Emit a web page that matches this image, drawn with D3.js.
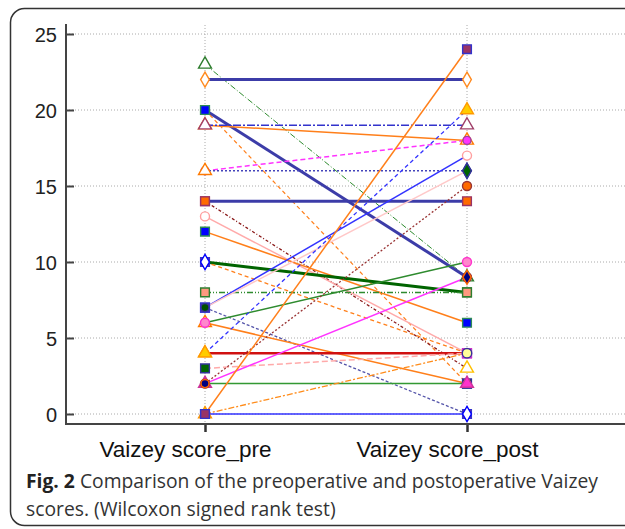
<!DOCTYPE html>
<html>
<head>
<meta charset="utf-8">
<script src="https://cdn.jsdelivr.net/npm/d3@7"></script>
<style>
  body { margin: 0; background: #fff; }
  svg { display: block; }
</style>
</head>
<body>
<div id="chart"></div>
<script>
// Data: one entry per patient (pre -> post)
const categories = ["Vaizey score_pre", "Vaizey score_post"];
const preScores  = [23, 22, 20, 20, 19, 19, 16, 16, 14, 14, 13, 12, 10, 10, 8, 7, 7, 7, 6, 6, 4, 4, 3, 2, 2, 2, 0, 0, 0];
const postScores = [9, 22, 9, 2, 18, 19, 18, 16, 14, 3, 4, 6, 8, 4, 8, 17, 0, 16, 2, 10, 4, 20, 4, 2, 15, 9, 4, 0, 24];
const yTicks = [0, 5, 10, 15, 20, 25];

// Marker styles (shape, fill, stroke, area)
const markers = {
  gTri:  { s: d3.symbolTriangle, f: "#fff",    c: "#2e7d2e", a: 72 },
  oDia:  { s: d3.symbolDiamond,  f: "#fff",    c: "#ff8a1f", a: 66 },
  bSq:   { s: d3.symbolSquare,   f: "#0000ff", c: "#2e8b57", a: 76 },
  oTri:  { s: d3.symbolTriangle, f: "#fff",    c: "#ff7a00", a: 72 },
  pTri:  { s: d3.symbolTriangle, f: "#fff",    c: "#a0406a", a: 72 },
  mCirc: { s: d3.symbolCircle,   f: "#ff33ff", c: "#a040a0", a: 50 },
  dgDia: { s: d3.symbolDiamond,  f: "#006400", c: "#333399", a: 66 },
  oSq:   { s: d3.symbolSquare,   f: "#ff6a00", c: "#993366", a: 76 },
  yTriO: { s: d3.symbolTriangle, f: "#fff",    c: "#ffc000", a: 72 },
  pkCirc:{ s: d3.symbolCircle,   f: "#fff",    c: "#ffa0a0", a: 64 },
  mSq:   { s: d3.symbolSquare,   f: "#ff33cc", c: "#cc33cc", a: 76 },
  pSq:   { s: d3.symbolSquare,   f: "#993366", c: "#3333cc", a: 76 },
  salSq: { s: d3.symbolSquare,   f: "#ff9980", c: "#2e7d2e", a: 76 },
  wDia:  { s: d3.symbolDiamond,  f: "#fff",    c: "#0000ff", a: 66 },
  dgCirc:{ s: d3.symbolCircle,   f: "#005000", c: "#333399", a: 50 },
  dgSq:  { s: d3.symbolSquare,   f: "#006400", c: "#333399", a: 76 },
  piCirc:{ s: d3.symbolCircle,   f: "#ff88cc", c: "#ff33cc", a: 64 },
  yTri:  { s: d3.symbolTriangle, f: "#ffcc00", c: "#ff9900", a: 72 },
  mTri:  { s: d3.symbolTriangle, f: "#ff33cc", c: "#cc3399", a: 72 },
  oCirc: { s: d3.symbolCircle,   f: "#ff6a00", c: "#993333", a: 64 },
  navCirc:{ s: d3.symbolCircle,  f: "#000080", c: "#ff6600", a: 50 },
  navDia:{ s: d3.symbolDiamond,  f: "#000080", c: "#ff6600", a: 58 },
  yCirc: { s: d3.symbolCircle,   f: "#ffff99", c: "#333399", a: 70 }
};

// Line style per patient: colour, width, dash, marker at pre, marker at post
const styles = [
  ["#2e8b2e", 1, "6,2,1,2", "gTri", "gTri"],
  ["#3c3ca8", 3, null, "oDia", "oDia"],
  ["#3c3ca8", 3, null, "bSq", "oCirc"],
  ["#ff7f1a", 1.2, "4,3", "bSq", "dgSq"],
  ["#ff7f1a", 1.5, null, "oTri", "oTri"],
  ["#3333cc", 1.5, "8,2,2,2", "pTri", "pTri"],
  ["#ff33ff", 1.5, "5,3", "mCirc", "mCirc"],
  ["#4444bb", 1.5, "2,2", "oTri", "dgDia"],
  ["#3c3ca8", 3, null, "oSq", "oSq"],
  ["#8b1a1a", 1.3, "3,2,1,2", "oSq", "yTriO"],
  ["#ffaaaa", 1.5, null, "pkCirc", "mSq"],
  ["#ff7f1a", 1.5, null, "bSq", "bSq"],
  ["#006400", 3, null, "pSq", "salSq"],
  ["#ff7f1a", 1.3, "4,3", "wDia", "mSq"],
  ["#2e8b2e", 1.5, "6,2,1,2,1,2", "salSq", "salSq"],
  ["#3333ff", 1.5, null, "pSq", "pkCirc"],
  ["#5555aa", 1.3, "3,2", "pSq", "pSq"],
  ["#ffc8c8", 1.5, null, "dgCirc", "dgDia"],
  ["#ff7f1a", 1.5, null, "oTri", "dgSq"],
  ["#2e8b2e", 1.5, null, "piCirc", "piCirc"],
  ["#d01010", 2.5, null, "yTri", "mSq"],
  ["#3333ff", 1.3, "4,3", "yTri", "yTri"],
  ["#ffaaaa", 1.5, "6,3", "dgSq", "mSq"],
  ["#339933", 1.5, null, "mTri", "mTri"],
  ["#993333", 1.3, "2,2", "oCirc", "oCirc"],
  ["#ff33ff", 1.5, null, "navCirc", "navDia"],
  ["#ff8c1a", 1.3, "6,2,2,2", "yTri", "yCirc"],
  ["#3333ff", 1.5, null, "pSq", "wDia"],
  ["#ff7f1a", 1.5, null, "pSq", "pSq"]
];

const W = 625, H = 529;
const svg = d3.select("#chart").append("svg")
  .attr("width", W).attr("height", H);

// figure frame
svg.append("rect")
  .attr("x", 10.5).attr("y", 8.5)
  .attr("width", 640).attr("height", 517)
  .attr("rx", 14)
  .attr("fill", "none").attr("stroke", "#333").attr("stroke-width", 1.5);

const axisX = 66, axisY = 424;

const y = d3.scaleLinear().domain([0, 25]).range([414, 34]);
const x = d3.scalePoint().domain(categories).range([205, 467]);

// grid
svg.append("g").selectAll("line").data(yTicks).join("line")
  .attr("x1", axisX).attr("x2", W)
  .attr("y1", d => y(d)).attr("y2", d => y(d))
  .attr("stroke", "#aaa").attr("stroke-width", 1).attr("stroke-dasharray", "1,2");
svg.append("g").selectAll("line").data(categories).join("line")
  .attr("x1", d => x(d)).attr("x2", d => x(d))
  .attr("y1", 25).attr("y2", axisY)
  .attr("stroke", "#aaa").attr("stroke-width", 1).attr("stroke-dasharray", "1,2");

// y axis
const yAxis = svg.append("g")
  .attr("transform", `translate(${axisX},0)`)
  .call(d3.axisRight(y).tickValues(yTicks).tickSize(8));
yAxis.select(".domain").remove();
yAxis.selectAll("line").attr("stroke", "#444").attr("stroke-width", 2);
yAxis.selectAll("text")
  .attr("text-anchor", "end").attr("x", -9).attr("dy", "0.36em")
  .attr("font-family", "Liberation Sans, Arial, sans-serif")
  .attr("font-size", 20).attr("fill", "#222");
svg.append("line")
  .attr("x1", axisX).attr("x2", axisX).attr("y1", 24).attr("y2", axisY + 1)
  .attr("stroke", "#444").attr("stroke-width", 2);

// x axis
const xAxis = svg.append("g")
  .attr("transform", `translate(0,${axisY})`)
  .call(d3.axisBottom(x).tickSize(8).tickPadding(9));
xAxis.select(".domain").remove();
xAxis.selectAll("line").attr("stroke", "#333").attr("stroke-width", 2.5);
xAxis.selectAll("text")
  .attr("dx", -20)
  .attr("font-family", "Liberation Sans, Arial, sans-serif")
  .attr("font-size", 22.5).attr("fill", "#111");
svg.append("line")
  .attr("x1", axisX - 1).attr("x2", W).attr("y1", axisY).attr("y2", axisY)
  .attr("stroke", "#444").attr("stroke-width", 2);

// patient lines
const patients = preScores.map((p, i) => ({
  values: [p, postScores[i]], st: styles[i]
}));
const line = d3.line()
  .x((d, i) => x(categories[i]))
  .y(d => y(d));

svg.append("g").selectAll("path").data(patients).join("path")
  .attr("d", d => line(d.values))
  .attr("fill", "none")
  .attr("stroke", d => d.st[0])
  .attr("stroke-width", d => d.st[1])
  .attr("stroke-dasharray", d => d.st[2]);

// markers at both ends
const ends = [];
[0, 1].forEach(k => patients.forEach(d => {
  ends.push({ cat: categories[k], v: d.values[k], m: markers[d.st[3 + k]] });
}));
svg.append("g").selectAll("path").data(ends).join("path")
  .attr("transform", d => `translate(${x(d.cat)},${y(d.v)})`)
  .attr("d", d => d3.symbol().type(d.m.s).size(d.m.a)())
  .attr("fill", d => d.m.f)
  .attr("stroke", d => d.m.c)
  .attr("stroke-width", 1.4);

// caption
const cap = svg.append("g")
  .attr("font-family", "Open Sans, sans-serif")
  .attr("font-size", 19.3)
  .attr("fill", "#333");
const l1 = cap.append("text").attr("x", 26).attr("y", 488);
l1.append("tspan").attr("font-weight", "bold").attr("fill", "#222").text("Fig. 2");
l1.append("tspan").text(" Comparison of the preoperative and postoperative Vaizey");
cap.append("text").attr("x", 26).attr("y", 516)
  .text("scores. (Wilcoxon signed rank test)");
</script>
</body>
</html>
